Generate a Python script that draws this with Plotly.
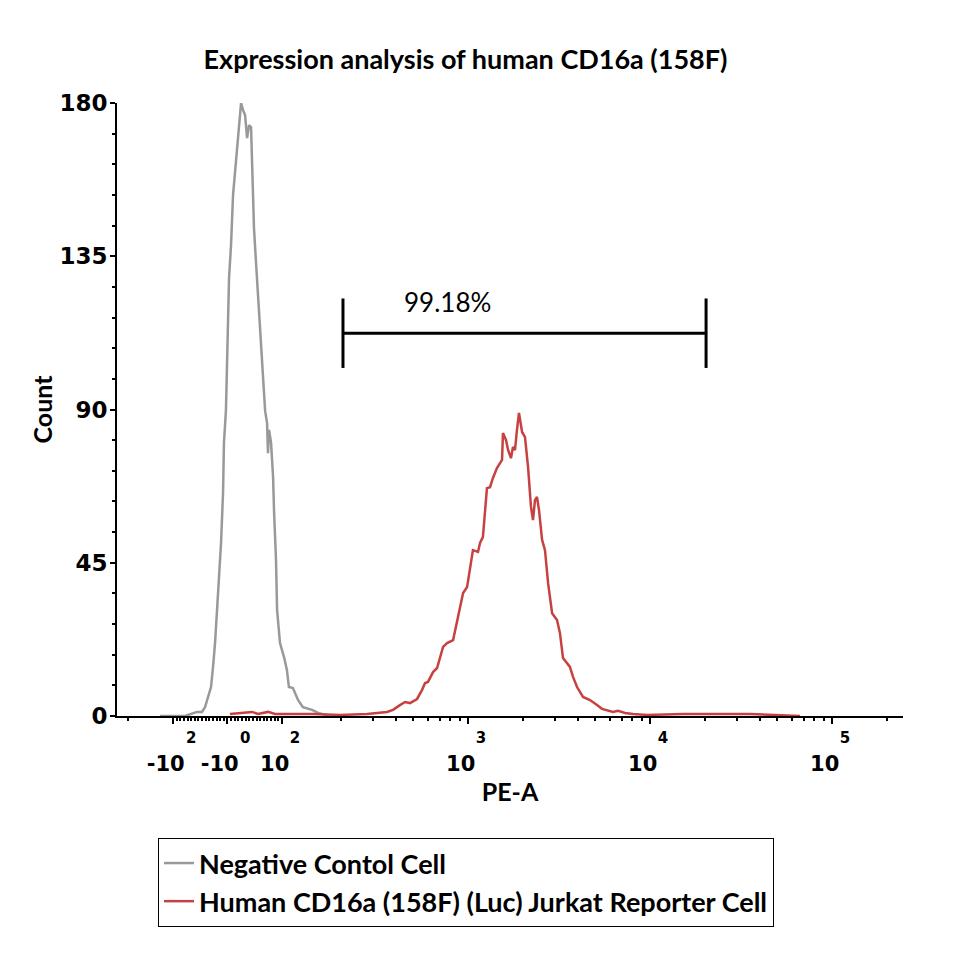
import numpy as np
import plotly.graph_objects as go

# PE-A in biexponential display units (1 unit = 1 decade, 3 -> 10^3)
neg_x = [1.308, 1.445, 1.511, 1.538, 1.555, 1.571, 1.588, 1.599, 1.610, 1.621, 1.632, 1.643,
         1.654, 1.659, 1.670, 1.673, 1.676, 1.681, 1.687, 1.698, 1.703, 1.709, 1.720, 1.731,
         1.736, 1.747, 1.753, 1.764, 1.775, 1.786, 1.797, 1.808, 1.813, 1.819, 1.824, 1.835,
         1.846, 1.857, 1.868, 1.874, 1.885, 1.887, 1.896, 1.901, 1.907, 1.918, 1.929, 1.934,
         1.945, 1.951, 1.967, 1.989, 2.005, 2.016, 2.038, 2.066, 2.093, 2.143, 2.176, 2.242]
neg_count = [0.0, 0.0, 1.2, 1.2, 2.6, 5.6, 8.5, 14.4, 21.4, 31.1, 40.8, 50.8,
             65.5, 80.2, 89.8, 97.2, 108.9, 118.6, 128.6, 138.3, 148.0, 153.0, 159.7, 166.8,
             169.7, 176.5, 180.0, 177.9, 176.5, 169.7, 173.5, 172.9, 163.8, 153.0, 143.3, 133.3,
             123.6, 113.9, 103.9, 96.3, 89.8, 89.0, 86.0, 77.2, 84.0, 80.2, 70.2, 60.5,
             45.8, 31.1, 21.4, 17.3, 13.5, 8.5, 8.2, 4.7, 2.6, 1.8, 0.9, 0.0]

pos_x = [1.692, 1.813, 1.846, 1.901, 1.940, 2.148, 2.297, 2.445, 2.555, 2.588, 2.626, 2.654,
         2.681, 2.720, 2.747, 2.764, 2.780, 2.808, 2.830, 2.846, 2.863, 2.885, 2.918, 2.945,
         2.973, 2.995, 3.011, 3.027, 3.055, 3.066, 3.082, 3.093, 3.104, 3.121, 3.137, 3.159,
         3.176, 3.187, 3.192, 3.209, 3.220, 3.236, 3.247, 3.258, 3.269, 3.280, 3.297, 3.313,
         3.330, 3.346, 3.357, 3.368, 3.379, 3.390, 3.407, 3.423, 3.440, 3.462, 3.489, 3.505,
         3.522, 3.560, 3.577, 3.599, 3.632, 3.670, 3.709, 3.736, 3.797, 3.824, 3.863, 3.907,
         3.984, 4.126, 4.181, 4.346, 4.549, 4.824]
pos_count = [0.6, 1.2, 0.6, 1.2, 0.6, 0.6, 0.3, 0.6, 1.2, 1.8, 3.2, 4.1,
             3.8, 5.0, 7.6, 9.7, 10.0, 12.9, 14.1, 17.3, 20.3, 21.4, 22.3, 29.1,
             36.1, 37.9, 43.7, 48.7, 48.2, 50.8, 52.6, 60.5, 66.9, 67.2, 69.9, 72.8,
             74.3, 75.2, 83.1, 81.0, 78.1, 75.7, 79.0, 78.1, 84.0, 89.0, 83.4, 81.9,
             73.1, 61.4, 57.5, 63.4, 64.3, 60.5, 51.7, 48.7, 39.0, 30.2, 28.2, 24.4,
             17.0, 14.4, 11.5, 8.5, 5.6, 4.7, 3.2, 2.1, 1.2, 1.5, 0.9, 0.6,
             0.3, 0.6, 0.6, 0.6, 0.6, 0.0]

tick_pos = [1.379, 1.676, 1.978, 3.0, 4.0, 5.0]
tick_base = ["-10", "-10", "10", "10", "10", "10"]
tick_exp = ["2", "0", "2", "3", "4", "5"]

y_ticks = [0, 45, 90, 135, 180]

gate_x = [2.313, 4.308]
gate_y = 112.4
gate_half = 10.2
gate_label = "99.18%"
gate_label_x = 2.885
gate_label_y = 121.5

series_names = ["Negative Contol Cell", "Human CD16a (158F) (Luc) Jurkat Reporter Cell"]
series_colors = ["#999999", "#C84141"]

TITLE_FONT = "Lato"
TICK_FONT = "DejaVu Sans"

# minor ticks: log decades + dense linear region
minor = [1.132] + list(np.round(np.linspace(1.379, 1.978, 31), 4))
for d in range(2, 6):
    for k in range(2, 10):
        v = d + np.log10(k)
        if v < 5.39:
            minor.append(round(v, 4))


def tick_label(base, exp):
    pad_exp = 7 if base.startswith("-") else 5
    return (f"<span style='font-size:15px'>{'&nbsp;' * pad_exp}{exp}</span>"
            f"<br>{base}&nbsp;&nbsp;")


ticktext = [tick_label(b, e) for b, e in zip(tick_base, tick_exp)]

fig = go.Figure()
fig.add_trace(go.Scatter(x=neg_x, y=neg_count, mode="lines", name=series_names[0],
                         line=dict(color=series_colors[0], width=2.5)))
fig.add_trace(go.Scatter(x=pos_x, y=pos_count, mode="lines", name=series_names[1],
                         line=dict(color=series_colors[1], width=2.5)))

# gate bar
fig.add_shape(type="line", x0=gate_x[0], x1=gate_x[1], y0=gate_y, y1=gate_y,
              line=dict(color="black", width=3))
for gx in gate_x:
    fig.add_shape(type="line", x0=gx, x1=gx, y0=gate_y - gate_half, y1=gate_y + gate_half,
                  line=dict(color="black", width=3))
fig.add_annotation(x=gate_label_x, y=gate_label_y, text=gate_label, showarrow=False,
                   font=dict(family=TITLE_FONT, size=26, color="black"))

bold = dict(color="black", weight="bold")

# page body adds an 8px offset; figure is sized so the plot lands where the original is
W = H = 952
fig.update_layout(
    width=W, height=H,
    margin=dict(l=109, r=57, t=95, b=244, autoexpand=False),
    paper_bgcolor="white", plot_bgcolor="white",
    title=dict(text="Expression analysis of human CD16a (158F)",
               x=(465.5 - 8) / W, xanchor="center", xref="container",
               y=1 - 52 / H, yanchor="middle",
               font=dict(family=TITLE_FONT, size=27, **bold)),
    showlegend=True,
    legend=dict(x=(158 - 117) / 786, y=(716 - 838) / 613, xanchor="left", yanchor="top",
                bordercolor="black", borderwidth=1, bgcolor="white",
                font=dict(family=TITLE_FONT, size=27, **bold),
                itemwidth=30, tracegroupgap=0),
    xaxis=dict(range=[1.0714, 5.390], showgrid=False, zeroline=False,
               showline=True, linecolor="black", linewidth=2,
               ticks="outside", ticklen=6, tickwidth=2, tickcolor="black",
               tickmode="array", tickvals=tick_pos, ticktext=ticktext, tickangle=0,
               ticklabelstandoff=-6,
               tickfont=dict(family=TICK_FONT, size=21, **bold),
               minor=dict(tickmode="array", tickvals=minor, ticks="outside",
                          ticklen=3, tickwidth=1.5, tickcolor="black"),
               title=dict(text="PE-A", standoff=0,
                          font=dict(family=TITLE_FONT, size=25, **bold))),
    yaxis=dict(range=[0, 180], showgrid=False, zeroline=False,
               showline=True, linecolor="black", linewidth=2,
               ticks="outside", ticklen=5, tickwidth=2, tickcolor="black",
               tickmode="array", tickvals=y_ticks, ticklabelstandoff=-2,
               tickfont=dict(family=TICK_FONT, size=23, **bold),
               minor=dict(dtick=9, ticks="outside", ticklen=3, tickwidth=1.5, tickcolor="black"),
               title=dict(text="Count", standoff=0,
                          font=dict(family=TITLE_FONT, size=25, **bold))),
)

fig.write_html("out.html")
